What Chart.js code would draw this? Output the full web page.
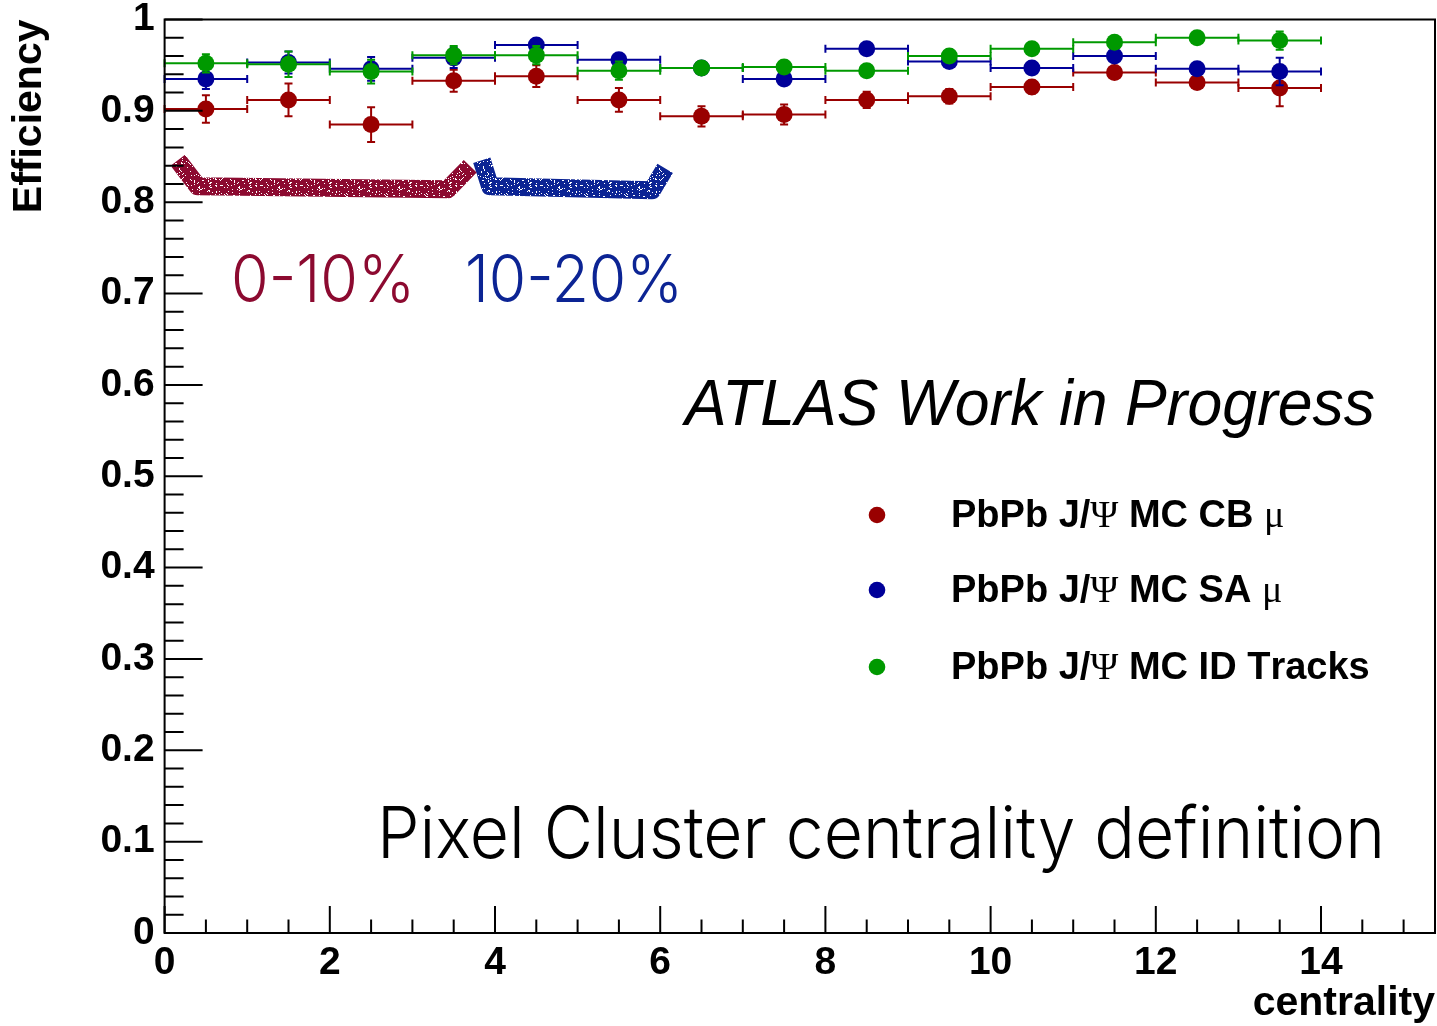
<!DOCTYPE html>
<html>
<head>
<meta charset="utf-8">
<script src="https://cdn.jsdelivr.net/npm/chart.js@4.4.1/dist/chart.umd.min.js"></script>
<style>
  body { margin: 0; background: #fff; }
  #wrap { width: 1437px; height: 1026px; }
</style>
</head>
<body>
<div id="wrap"><canvas id="effChart" width="1437" height="1026"></canvas></div>
<script>
// centrality bins: centres, half width 0.5
const centrality = [0.5, 1.5, 2.5, 3.5, 4.5, 5.5, 6.5, 7.5, 8.5, 9.5, 10.5, 11.5, 12.5, 13.5];
const binHalfWidth = 0.5;

// combined muons
const effCB = [0.902, 0.912, 0.885, 0.933, 0.938, 0.912, 0.894, 0.896, 0.912, 0.916, 0.926, 0.942, 0.931, 0.925];
const errCB = [0.015, 0.018, 0.019, 0.012, 0.012, 0.013, 0.011, 0.011, 0.009, 0.008, 0.007, 0.006, 0.006, 0.020];
// stand-alone muons
const effSA = [0.935, 0.953, 0.946, 0.958, 0.972, 0.956, 0.947, 0.935, 0.968, 0.954, 0.947, 0.960, 0.946, 0.943];
const errSA = [0.011, 0.012, 0.013, 0.011, 0.005, 0.006, 0.005, 0.006, 0.005, 0.005, 0.005, 0.005, 0.005, 0.015];
// inner detector tracks
const effID = [0.952, 0.951, 0.943, 0.961, 0.961, 0.944, 0.947, 0.948, 0.944, 0.960, 0.968, 0.975, 0.980, 0.977];
const errID = [0.010, 0.014, 0.013, 0.010, 0.010, 0.010, 0.005, 0.005, 0.005, 0.005, 0.005, 0.005, 0.005, 0.010];

const seriesNames = ['PbPb J/Ψ MC CB μ', 'PbPb J/Ψ MC SA μ', 'PbPb J/Ψ MC ID Tracks'];

const xTicks = [0, 2, 4, 6, 8, 10, 12, 14];
const yTicks = [0, 0.1, 0.2, 0.3, 0.4, 0.5, 0.6, 0.7, 0.8, 0.9, 1];

// hand drawn brackets over the most central bins
const band010X = [0.16, 0.40, 3.43, 3.70];
const band010Y = [0.846, 0.8175, 0.8143, 0.8394];
const band1020X = [3.84, 3.94, 5.90, 6.06];
const band1020Y = [0.846, 0.8175, 0.813, 0.837];

const colCB = '#990000', colSA = '#000099', colID = '#009900';
const col010 = '#8c0a30', col1020 = '#0c2494';
const sans = '"Liberation Sans", Arial, Helvetica, sans-serif';
const serif = '"Liberation Serif", "Times New Roman", serif';

function points(xs, ys) {
  return xs.map((x, i) => ({ x: x, y: ys[i] }));
}

// felt-pen look for the brackets: solid colour with sparse white specks
function grain(color) {
  const n = 40;
  const c = document.createElement('canvas');
  c.width = c.height = n;
  const g = c.getContext('2d');
  g.fillStyle = color;
  g.fillRect(0, 0, n, n);
  for (let i = 0; i < n * n; i++) {
    const h = Math.sin(i * 12.9898 + 78.233) * 43758.5453;
    if (h - Math.floor(h) < 0.1) g.clearRect(i % n, Math.floor(i / n), 1, 1);
  }
  return g.createPattern(c, 'repeat');
}

// x and y error bars, drawn just under each dataset's markers
const errorBars = {
  id: 'errorBars',
  beforeDatasetDraw(chart, args) {
    const ds = chart.data.datasets[args.index];
    if (!ds.yErr) return;
    const ctx = chart.ctx, xs = chart.scales.x, ys = chart.scales.y;
    const cap = 4;
    ctx.save();
    ctx.strokeStyle = ds.backgroundColor;
    ctx.lineWidth = 2;
    ds.data.forEach((p, i) => {
      const x0 = xs.getPixelForValue(p.x - ds.xErr);
      const x1 = xs.getPixelForValue(p.x + ds.xErr);
      const xc = xs.getPixelForValue(p.x);
      const yc = ys.getPixelForValue(p.y);
      const yt = ys.getPixelForValue(p.y + ds.yErr[i]);
      const yb = ys.getPixelForValue(p.y - ds.yErr[i]);
      ctx.beginPath();
      ctx.moveTo(x0, yc); ctx.lineTo(x1, yc);
      ctx.moveTo(x0, yc - cap); ctx.lineTo(x0, yc + cap);
      ctx.moveTo(x1, yc - cap); ctx.lineTo(x1, yc + cap);
      ctx.moveTo(xc, yt); ctx.lineTo(xc, yb);
      ctx.moveTo(xc - cap, yt); ctx.lineTo(xc + cap, yt);
      ctx.moveTo(xc - cap, yb); ctx.lineTo(xc + cap, yb);
      ctx.stroke();
    });
    ctx.restore();
  }
};

// ROOT style frame with ticks pointing into the pad
const frameTicks = {
  id: 'frameTicks',
  afterDatasetsDraw(chart) {
    const ctx = chart.ctx, a = chart.chartArea;
    const xs = chart.scales.x, ys = chart.scales.y;
    ctx.save();
    ctx.strokeStyle = '#000';
    ctx.lineWidth = 2;
    ctx.beginPath();
    for (let v = 0; v <= 15.001; v += 0.5) {
      const px = xs.getPixelForValue(v);
      const len = Math.abs(v / 2 - Math.round(v / 2)) < 1e-6 ? 27 : 13.5;
      ctx.moveTo(px, a.bottom); ctx.lineTo(px, a.bottom - len);
    }
    for (let k = 0; k <= 50; k++) {
      const py = ys.getPixelForValue(k * 0.02);
      const len = k % 5 === 0 ? 38 : 19;
      ctx.moveTo(a.left, py); ctx.lineTo(a.left + len, py);
    }
    ctx.stroke();
    ctx.strokeRect(a.left, a.top, a.right - a.left, a.bottom - a.top);
    ctx.restore();
  }
};

function fitText(ctx, text, font, color, left, baseline, width) {
  ctx.save();
  ctx.font = font;
  const w = ctx.measureText(text).width;
  ctx.translate(left, baseline);
  ctx.scale(width / w, 1);
  ctx.fillStyle = color;
  ctx.textBaseline = 'alphabetic';
  ctx.textAlign = 'left';
  ctx.fillText(text, 0, 0);
  ctx.restore();
}

// legend line: bold Helvetica with greek letters in a serif face
function legendText(ctx, text, x, baseline) {
  let cx = x;
  for (const ch of text) {
    const greek = ch === 'Ψ' || ch === 'μ';
    ctx.font = greek ? '38px ' + serif : 'bold 38px ' + sans;
    ctx.fillText(ch, cx, baseline);
    cx += ctx.measureText(ch).width;
  }
}

const annotations = {
  id: 'annotations',
  afterDraw(chart) {
    const ctx = chart.ctx;
    const light = '300 66px Inter, Lato, ' + sans;
    fitText(ctx, '0-10%', light, col010, 231, 302, 184);
    fitText(ctx, '10-20%', light, col1020, 465, 302, 218);
    fitText(ctx, 'ATLAS Work in Progress', 'italic 64px ' + sans, '#000', 685, 425, 690);
    fitText(ctx, 'Pixel Cluster centrality definition', '300 72px Inter, Lato, ' + sans, '#000', 377, 858, 1008);

    const rows = [515, 590, 667];
    const cols = [colCB, colSA, colID];
    ctx.save();
    ctx.textBaseline = 'alphabetic';
    rows.forEach((ry, i) => {
      ctx.fillStyle = cols[i];
      ctx.beginPath();
      ctx.arc(877, ry, 8.3, 0, Math.PI * 2);
      ctx.fill();
      ctx.fillStyle = '#000';
      legendText(ctx, seriesNames[i], 951, ry + 12);
    });
    ctx.restore();
  }
};

const tickFont = { family: sans, size: 39, weight: 'bold', lineHeight: 1 };
const titleFont = { family: sans, size: 41, weight: 'bold', lineHeight: 1 };

new Chart(document.getElementById('effChart'), {
  type: 'scatter',
  data: {
    datasets: [
      { label: '0-10%', type: 'line', data: points(band010X, band010Y), borderColor: grain(col010),
        borderWidth: 18, pointRadius: 0, tension: 0, borderJoinStyle: 'round', order: 10 },
      { label: '10-20%', type: 'line', data: points(band1020X, band1020Y), borderColor: grain(col1020),
        borderWidth: 18, pointRadius: 0, tension: 0, borderJoinStyle: 'round', order: 10 },
      { label: seriesNames[0], data: points(centrality, effCB), backgroundColor: colCB, borderColor: colCB,
        pointRadius: 8.5, pointBorderWidth: 0, xErr: binHalfWidth, yErr: errCB, order: 3 },
      { label: seriesNames[1], data: points(centrality, effSA), backgroundColor: colSA, borderColor: colSA,
        pointRadius: 8.5, pointBorderWidth: 0, xErr: binHalfWidth, yErr: errSA, order: 2 },
      { label: seriesNames[2], data: points(centrality, effID), backgroundColor: colID, borderColor: colID,
        pointRadius: 8.5, pointBorderWidth: 0, xErr: binHalfWidth, yErr: errID, order: 1 }
    ]
  },
  options: {
    responsive: false,
    animation: false,
    layout: { autoPadding: false, padding: { top: 19.5, right: 2, left: 0, bottom: 0 } },
    plugins: { legend: { display: false }, tooltip: { enabled: false } },
    scales: {
      x: {
        type: 'linear', min: 0, max: 15.38,
        afterBuildTicks: s => { s.ticks = xTicks.map(v => ({ value: v })); },
        afterFit: s => { s.height = 93; s.paddingLeft = 0; s.paddingRight = 0; },
        grid: { display: false, drawTicks: false },
        border: { display: false },
        ticks: { font: tickFont, color: '#000', padding: 11, maxRotation: 0, autoSkip: false },
        title: { display: true, text: 'centrality', align: 'end', color: '#000', font: titleFont,
                 padding: { top: 0, bottom: 2 } }
      },
      y: {
        min: 0, max: 1,
        afterBuildTicks: s => { s.ticks = yTicks.map(v => ({ value: v })); },
        afterFit: s => { s.width = 164.6; s.paddingTop = 0; s.paddingBottom = 0; },
        grid: { display: false, drawTicks: false },
        border: { display: false },
        ticks: { font: tickFont, color: '#000', padding: 10, autoSkip: false,
                 callback: v => String(v) },
        title: { display: true, text: 'Efficiency', align: 'end', color: '#000', font: titleFont,
                 padding: { top: 9.5, bottom: 0 } }
      }
    }
  },
  plugins: [errorBars, frameTicks, annotations]
});
</script>
</body>
</html>
